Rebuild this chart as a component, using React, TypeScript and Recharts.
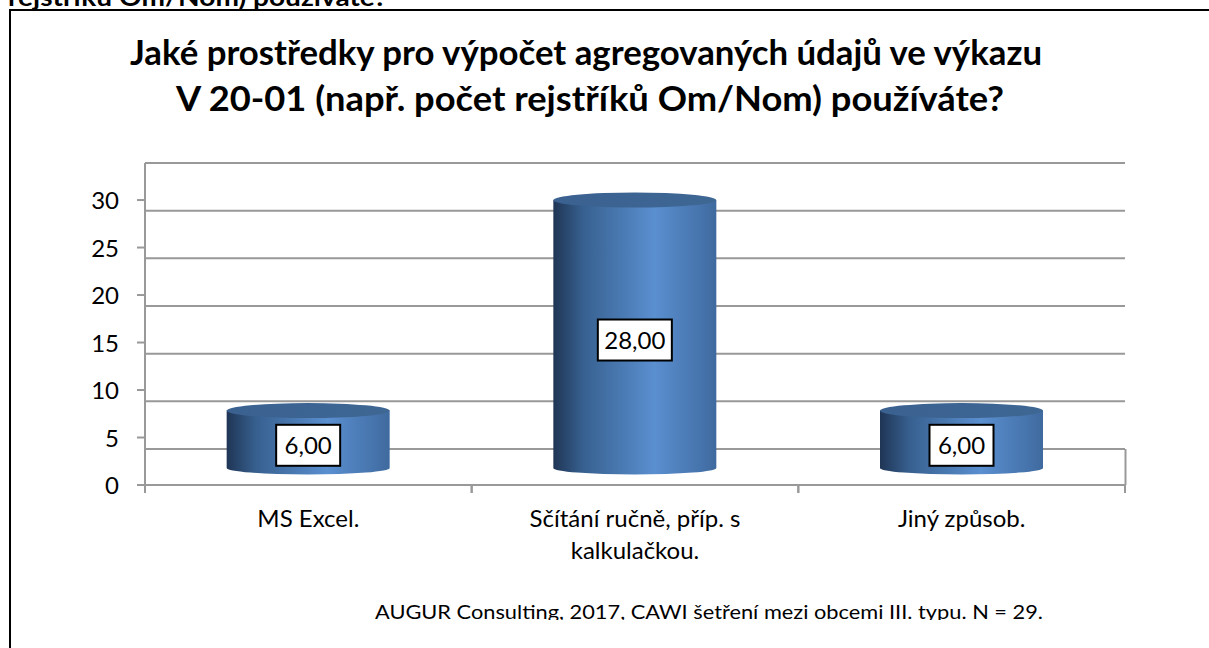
import React from "react";
import { ComposedChart, Bar, XAxis, YAxis, CartesianGrid, LabelList } from "recharts";

const categories = ["MS Excel.", "Sčítání ručně, příp. s kalkulačkou.", "Jiný způsob."];
const values = [6, 28, 6];
const yTicks = [0, 5, 10, 15, 20, 25, 30];
const titleLines = [
  "Jaké prostředky pro výpočet agregovaných údajů ve výkazu",
  "V 20-01 (např. počet rejstříků Om/Nom) používáte?",
];
const strayHeading = "rejstříku Om/Nom) používáte?";
const footnote = "AUGUR Consulting, 2017, CAWI šetření mezi obcemi III. typu. N = 29.";

const data = categories.map((name, i) => ({ name, value: values[i] }));
const FONT = "Lato, 'Noto Sans', sans-serif";
const GREY = "#999999";
const PLOT_WIDTH = 980;
const BAND = PLOT_WIDTH / categories.length;

function renderCylinder(props: any) {
  const { x, y, width, height } = props;
  const rx = width / 2;
  return (
    <g>
      <path
        d={`M${x},${y} L${x},${y + height} A${rx},6.5 0 0 0 ${x + width},${y + height} L${x + width},${y} Z`}
        fill="url(#cylSide)"
      />
      <ellipse cx={x + rx} cy={y} rx={rx} ry={7.5} fill="url(#cylTop)" />
    </g>
  );
}

function BoxLabel(props: any) {
  const { x, y, width, height, value } = props;
  const cx = x + width / 2;
  const cy = y + height / 2 + 6;
  const w = value >= 10 ? 74 : 64;
  return (
    <g>
      <rect x={cx - w / 2} y={cy - 20.5} width={w} height={41} fill="#fff" stroke="#000" strokeWidth={2} />
      <text x={cx} y={cy + 9} textAnchor="middle" fontSize={24} fontFamily={FONT} fill="#000">
        {Number(value).toFixed(2).replace(".", ",")}
      </text>
    </g>
  );
}

function CategoryTick(props: any) {
  const { x, y, payload } = props;
  const words = String(payload.value).split(" ");
  const lines: string[] = [];
  let cur = "";
  for (const w of words) {
    const next = cur ? cur + " " + w : w;
    if (next.length > 22) {
      lines.push(cur);
      cur = w;
    } else cur = next;
  }
  lines.push(cur);
  return (
    <g>
      <line x1={x - BAND / 2} x2={x - BAND / 2} y1={y - 8} y2={y} stroke={GREY} strokeWidth={2} />
      <line x1={x + BAND / 2} x2={x + BAND / 2} y1={y - 8} y2={y} stroke={GREY} strokeWidth={2} />
      {lines.map((l, i) => (
        <text key={i} x={x} y={y + 34 + i * 32} textAnchor="middle" fontSize={24} fontFamily={FONT} fill="#000">
          {l}
        </text>
      ))}
    </g>
  );
}

function ValueTick(props: any) {
  const { y, payload } = props;
  return (
    <text x={119} y={y + 9} textAnchor="end" fontSize={24} fontFamily={FONT} fill="#000">
      {payload.value}
    </text>
  );
}

export default function App() {
  return (
    <div style={{ position: "absolute", left: 0, top: 0, width: 1209, height: 648, overflow: "hidden", background: "#fff" }}>
      <svg width={1209} height={648} style={{ position: "absolute", left: 0, top: 0 }}>
        <defs>
          <clipPath id="footClip">
            <rect x={0} y={590} width={1209} height={30} />
          </clipPath>
          <linearGradient id="cylSide" x1="0" y1="0" x2="1" y2="0">
            <stop offset="0%" stopColor="#1f3555" />
            <stop offset="18%" stopColor="#37608f" />
            <stop offset="62%" stopColor="#5a8fd0" />
            <stop offset="100%" stopColor="#3f6a9f" />
          </linearGradient>
          <linearGradient id="cylTop" x1="0" y1="0" x2="1" y2="0">
            <stop offset="0%" stopColor="#3a6190" />
            <stop offset="100%" stopColor="#3f6794" />
          </linearGradient>
        </defs>
        <text x={8} y={6} fontSize={25} fontWeight={700} fontFamily={FONT} textLength={379} lengthAdjust="spacingAndGlyphs" fill="#000">
          {strayHeading}
        </text>
        <path d="M10,648 L10,10 L1209,10" fill="none" stroke="#000" strokeWidth={2} />
        <text x={130} y={65} fontSize={34} fontWeight={700} fontFamily={FONT} textLength={912} lengthAdjust="spacingAndGlyphs" fill="#000">
          {titleLines[0]}
        </text>
        <text x={176} y={111} fontSize={34} fontWeight={700} fontFamily={FONT} textLength={828} lengthAdjust="spacingAndGlyphs" fill="#000">
          {titleLines[1]}
        </text>
        <text x={375} y={619} fontSize={19.5} fontFamily={FONT} textLength={668} lengthAdjust="spacingAndGlyphs" fill="#000" clipPath="url(#footClip)">
          {footnote}
        </text>
        <line x1={1125.5} y1={449} x2={1125.5} y2={485} stroke={GREY} strokeWidth={2} />
      </svg>
      <div style={{ position: "absolute", left: 0, top: 0 }}>
        <ComposedChart
          width={1209}
          height={648}
          data={data}
          margin={{ top: 163, right: 84, left: 85, bottom: 63 }}
          barCategoryGap="25%"
        >
          <CartesianGrid
            xAxisId="cat"
            yAxisId="wall"
            vertical={false}
            horizontalValues={yTicks}
            syncWithTicks={false}
            stroke={GREY}
            strokeWidth={2}
          />
          <XAxis
            xAxisId="cat"
            dataKey="name"
            height={100}
            tickLine={false}
            tick={<CategoryTick />}
            interval={0}
            tickSize={8}
            tickMargin={0}
            stroke={GREY}
            strokeWidth={2}
          />
          <YAxis
            yAxisId="main"
            width={60}
            domain={[0, 33.9]}
            allowDataOverflow
            ticks={yTicks}
            tick={<ValueTick />}
            tickSize={8}
            stroke={GREY}
            strokeWidth={2}
          />
          <YAxis yAxisId="wall" hide width={0} domain={[-3.776, 30]} allowDataOverflow />
          <YAxis yAxisId="bars" hide width={0} domain={[-1.776, 31.87]} />
          <Bar xAxisId="cat" yAxisId="bars" dataKey="value" shape={renderCylinder} isAnimationActive={false}>
            <LabelList dataKey="value" content={<BoxLabel />} />
          </Bar>
        </ComposedChart>
      </div>
    </div>
  );
}
